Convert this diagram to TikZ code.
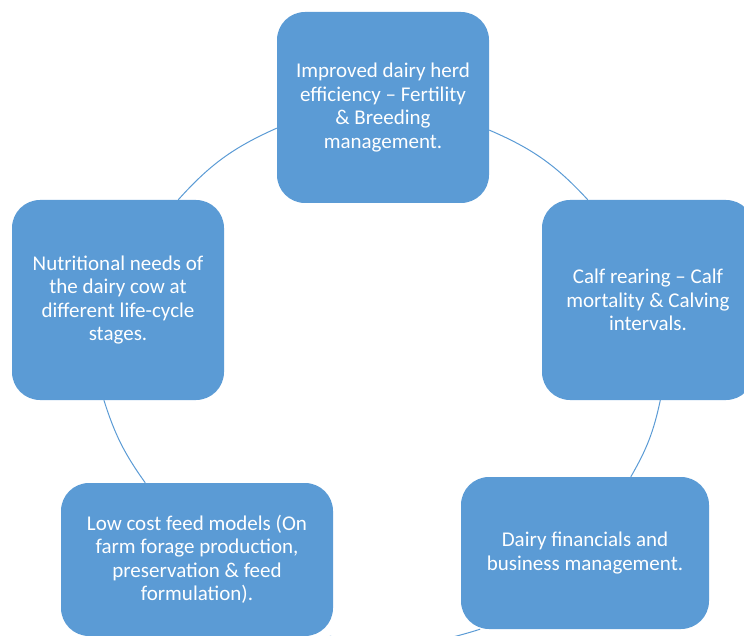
\documentclass[tikz,border=0pt]{standalone}
\usepackage{fontspec}
\setmainfont{Carlito}
\definecolor{stageblue}{HTML}{5B9BD5}
\tikzset{
  stage/.style={fill=stageblue, rounded corners=28pt, text=white, align=center,
    font=\fontsize{21}{23.5}\selectfont, inner sep=0pt},
  link/.style={draw=stageblue, line width=1pt}
}

\begin{document}
\begin{tikzpicture}[x=1pt,y=-1pt]
  \useasboundingbox (0,0) rectangle (744,636);
  \clip (0,0) rectangle (744,636);
  % the five stages
  \node[stage, minimum width=212pt, minimum height=191pt] (herd) at (383,107.5)
    {Improved dairy herd\\efficiency -- Fertility\\\& Breeding\\management.};
  \node[stage, minimum width=212pt, minimum height=200pt] (calf) at (648,300)
    {Calf rearing -- Calf\\mortality \& Calving\\intervals.};
  \node[stage, minimum width=248pt, minimum height=152pt] (money) at (585,553)
    {Dairy financials and\\business management.};
  \node[stage, minimum width=272pt, minimum height=153pt] (feed) at (197,559.5)
    {Low cost feed models (On\\farm forage production,\\preservation \& feed\\formulation).};
  \node[stage, minimum width=212pt, minimum height=200pt] (nutrition) at (118,300)
    {Nutritional needs of\\the dairy cow at\\different life-cycle\\stages.};
  % cycle arcs
  \draw[link] (herd.348.7) to[bend left=12] (calf.121);
  \draw[link] (calf.277.4) to[bend left=9] (money.59.4);
  \draw[link] (money.216) to[bend left=15] (feed.-30);
  \draw[link] (feed.124.2) to[bend left=9] (nutrition.262.6);
  \draw[link] (nutrition.59) to[bend left=12] (herd.191.3);
\end{tikzpicture}
\end{document}
